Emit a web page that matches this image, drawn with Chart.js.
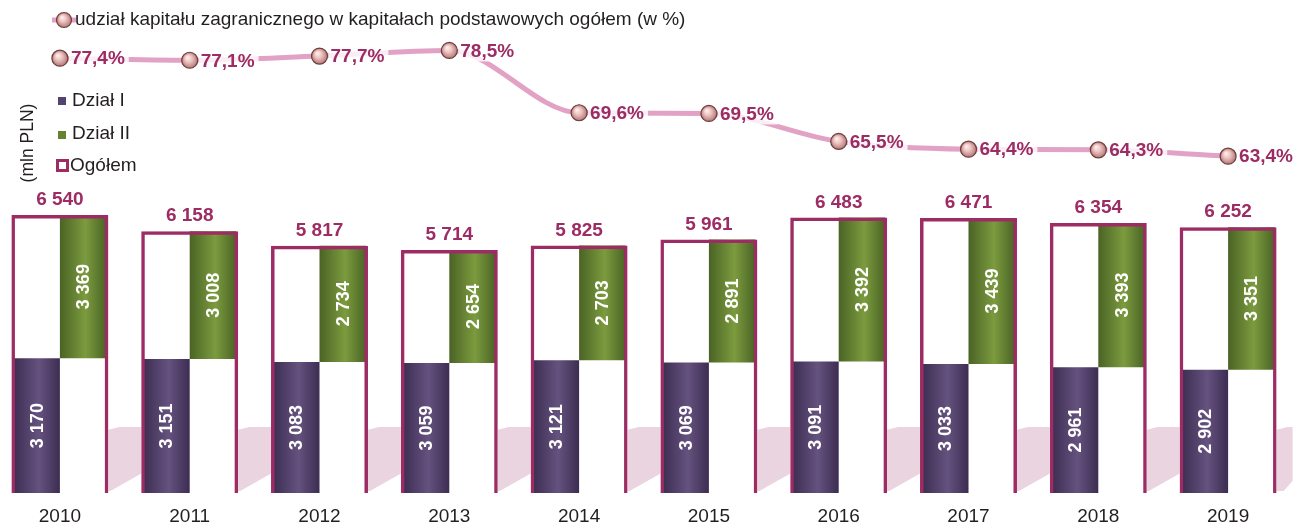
<!DOCTYPE html>
<html>
<head>
<meta charset="utf-8">
<script src="https://cdn.jsdelivr.net/npm/chart.js@4.4.0/dist/chart.umd.min.js"></script>
<style>
  html, body { margin: 0; padding: 0; background: #fff; overflow: hidden; }
  #wrap { width: 1303px; height: 524px; position: absolute; left: -5px; top: 0; }
</style>
</head>
<body>
<div id="wrap"><canvas id="chart"></canvas></div>
<script>
// data
const years = ["2010","2011","2012","2013","2014","2015","2016","2017","2018","2019"];
const dzial1 = [3170, 3151, 3083, 3059, 3121, 3069, 3091, 3033, 2961, 2902];
const dzial2 = [3369, 3008, 2734, 2654, 2703, 2891, 3392, 3439, 3393, 3351];
const ogolem = [6540, 6158, 5817, 5714, 5825, 5961, 6483, 6471, 6354, 6252];
const udzial = [77.4, 77.1, 77.7, 78.5, 69.6, 69.5, 65.5, 64.4, 64.3, 63.4];

const FONT = "'Liberation Sans', Arial, sans-serif";
const MAGENTA = "#9c2c63";
const LINE_PINK = "#e2a2c5";
const CAT = 0.7165;
const BOX = 0.747;
const OX = 5; // canvas sits 5px left of the page edge

const fmt = v => String(v).replace(/\B(?=(\d{3})+(?!\d))/g, " ");
const pctFmt = v => v.toFixed(1).replace(".", ",") + "%";

// horizontal gradient for the half-bars
function barGrad(c, side, dark, light) {
  const ch = c.chart, xs = ch.scales.x;
  if (!ch.chartArea || !xs) return light;
  const cx = xs.getPixelForValue(c.dataIndex);
  const w = (xs.width / years.length) * CAT / 2;
  const x0 = side < 0 ? cx - w : cx;
  const g = ch.ctx.createLinearGradient(x0, 0, x0 + w, 0);
  g.addColorStop(0, dark);
  g.addColorStop(0.55, light);
  g.addColorStop(1, dark);
  return g;
}

function sphere(ctx, x, y, r) {
  const g = ctx.createRadialGradient(x - r * 0.3, y - r * 0.4, 0, x, y, r);
  g.addColorStop(0, "#fff6f4");
  g.addColorStop(0.45, "#efc4c2");
  g.addColorStop(1, "#b07a78");
  ctx.beginPath();
  ctx.arc(x, y, r, 0, Math.PI * 2);
  ctx.fillStyle = g;
  ctx.fill();
  ctx.lineWidth = 1.2;
  ctx.strokeStyle = "#6e3d3c";
  ctx.stroke();
}

// pink "floor" between the boxes
const floorPlugin = {
  id: "floor",
  beforeDatasetsDraw(chart) {
    const { ctx, scales: { x, y } } = chart;
    const half = (x.width / years.length) * BOX / 2;
    const top = y.getPixelForValue(1550), bot = y.getPixelForValue(45);
    ctx.save();
    ctx.fillStyle = "#e9d4df";
    for (let i = 0; i < years.length; i++) {
      const last = i === years.length - 1;
      const L = x.getPixelForValue(i) + half - 1;
      const R = last ? L + 17 : x.getPixelForValue(i + 1) - half + 1;
      ctx.beginPath();
      ctx.moveTo(L, top + 3);
      ctx.lineTo(L + 12, top);
      ctx.lineTo(R, top);
      ctx.lineTo(R, last ? bot - 10 : bot - 18);
      ctx.lineTo(last ? R - 9 : L + 3, bot);
      ctx.lineTo(L, bot);
      ctx.closePath();
      ctx.fill();
    }
    ctx.restore();
  }
};

// value labels + legend + axis title + year labels
const labelPlugin = {
  id: "labels",
  afterDatasetsDraw(chart) {
    const ctx = chart.ctx;
    ctx.save();
    const m1 = chart.getDatasetMeta(1), m2 = chart.getDatasetMeta(2), mBox = chart.getDatasetMeta(3);
    ctx.fillStyle = "#ffffff";
    ctx.font = "bold 18px " + FONT;
    ctx.textAlign = "center";
    ctx.textBaseline = "middle";
    [[m1, dzial1], [m2, dzial2]].forEach(([meta, vals]) => {
      meta.data.forEach((el, i) => {
        ctx.save();
        ctx.translate(el.x, (el.y + el.base) / 2);
        ctx.rotate(-Math.PI / 2);
        ctx.fillText(fmt(vals[i]), 0, 1);
        ctx.restore();
      });
    });
    // totals
    ctx.fillStyle = MAGENTA;
    ctx.font = "bold 19px " + FONT;
    mBox.data.forEach((el, i) => ctx.fillText(fmt(ogolem[i]), el.x, el.y - 15));
    // percentages
    const mLine = chart.getDatasetMeta(4);
    ctx.textAlign = "left";
    mLine.data.forEach((el, i) => {
      const t = pctFmt(udzial[i]);
      const w = ctx.measureText(t).width;
      ctx.fillStyle = "rgba(255,255,255,0.82)";
      ctx.fillRect(el.x + 9, el.y - 11, w + 6, 22);
      ctx.fillStyle = MAGENTA;
      ctx.fillText(t, el.x + 11, el.y + 1);
    });
    // year labels
    ctx.textAlign = "center";
    ctx.fillStyle = "#231f20";
    ctx.font = "19px " + FONT;
    years.forEach((yr, i) => ctx.fillText(yr, chart.scales.x.getPixelForValue(i), 517));
    ctx.restore();
  },
  afterDraw(chart) {
    const ctx = chart.ctx;
    ctx.save();
    ctx.translate(OX, 0);
    ctx.textBaseline = "middle";
    ctx.textAlign = "left";
    // line legend
    ctx.strokeStyle = LINE_PINK;
    ctx.lineWidth = 5;
    ctx.beginPath(); ctx.moveTo(52, 20); ctx.lineTo(76, 20); ctx.stroke();
    sphere(ctx, 64, 20, 7.5);
    ctx.fillStyle = "#231f20";
    ctx.font = "19px " + FONT;
    ctx.fillText("udział kapitału zagranicznego w kapitałach podstawowych ogółem (w %)", 75, 20);
    // bar legend
    ctx.fillStyle = "#54426f"; ctx.fillRect(58, 97, 8, 8);
    ctx.fillStyle = "#65832f"; ctx.fillRect(58, 131, 8, 8);
    ctx.strokeStyle = MAGENTA; ctx.lineWidth = 3;
    ctx.strokeRect(57.5, 160.5, 10, 10);
    ctx.fillStyle = "#231f20";
    ctx.fillText("Dział I", 72, 101);
    ctx.fillText("Dział II", 72, 134);
    ctx.fillText("Ogółem", 70, 166);
    // axis title
    ctx.translate(28, 143);
    ctx.rotate(-Math.PI / 2);
    ctx.textAlign = "center";
    ctx.font = "17.5px " + FONT;
    ctx.fillText("(mln PLN)", 0, 0);
    ctx.restore();
  }
};

new Chart(document.getElementById("chart"), {
  data: {
    labels: years,
    datasets: [
      { // white box fill
        type: "bar", label: "Ogółem", data: ogolem, order: 3,
        grouped: false, categoryPercentage: 1, barPercentage: BOX,
        backgroundColor: "#ffffff", borderWidth: 0
      },
      {
        type: "bar", label: "Dział I", data: dzial1.map(v => [0, v]), order: 2,
        categoryPercentage: CAT, barPercentage: 1, borderWidth: 0,
        backgroundColor: c => barGrad(c, -1, "#3c2d51", "#65527f")
      },
      {
        type: "bar", label: "Dział II", data: dzial1.map((v, i) => [v, ogolem[i]]), order: 2,
        categoryPercentage: CAT, barPercentage: 1, borderWidth: 0,
        backgroundColor: c => barGrad(c, 1, "#4a6325", "#7c9b3e")
      },
      { // box outline
        type: "bar", label: "Ogółem", data: ogolem, order: 1,
        grouped: false, categoryPercentage: 1, barPercentage: BOX,
        backgroundColor: "rgba(0,0,0,0)", borderColor: MAGENTA, borderWidth: 3.5
      },
      {
        type: "line", label: "udział", data: udzial, yAxisID: "y2", order: 0,
        borderColor: LINE_PINK, borderWidth: 5, cubicInterpolationMode: "monotone",
        pointRadius: 0
      }
    ]
  },
  options: {
    responsive: true,
    maintainAspectRatio: false,
    animation: false,
    events: [],
    layout: { padding: { left: 0, right: 5, top: 0, bottom: 31 } },
    plugins: { legend: { display: false }, tooltip: { enabled: false } },
    scales: {
      x: { display: false },
      y: { display: false, min: 0, max: 11598 },
      y2: { display: false, min: 15.28, max: 85.71 }
    }
  },
  plugins: [floorPlugin, labelPlugin, {
    id: "spheres",
    afterDatasetsDraw(chart) {
      chart.getDatasetMeta(4).data.forEach(el => sphere(chart.ctx, el.x, el.y, 8));
    }
  }]
});
</script>
</body>
</html>
